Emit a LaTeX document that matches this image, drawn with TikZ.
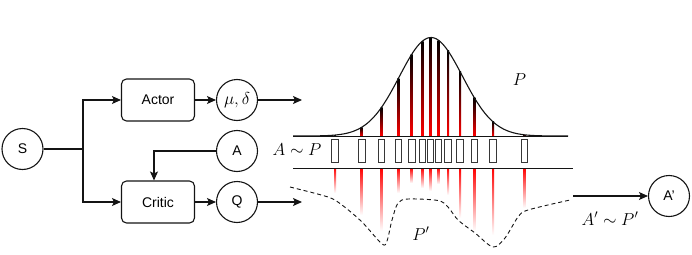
\documentclass[tikz,border=0pt]{standalone}
\usepackage{fontspec}
\setsansfont{Liberation Sans}
\usepackage{tikz}
\usetikzlibrary{calc,positioning,arrows.meta}
\definecolor{inkdark}{RGB}{20,20,20}
\definecolor{sampred}{RGB}{255,0,0}
\tikzset{
  flow/.style={line width=1.1pt, inkdark, -{Stealth[length=9pt,width=8pt,inset=2pt]}},
  roundbox/.style={draw=inkdark, line width=1.1pt, rounded corners=5pt,
    minimum width=73pt, minimum height=42pt, font=\sffamily},
  ring/.style={draw=inkdark, line width=1.1pt, circle, minimum size=41pt,
    inner sep=0pt, font=\sffamily},
  bandline/.style={line width=0.9pt, inkdark},
  sampbox/.style={draw=inkdark!85, line width=0.8pt, fill=white},
  mathlbl/.style={anchor=base, inner sep=0pt, font=\fontsize{18}{22}\selectfont},
}
\begin{document}
\begin{tikzpicture}[x=1pt, y=-1pt]
\fontsize{14}{17}\selectfont
% Frame fixed to the reference size (pixels as points, y pointing down)
\useasboundingbox (0,0) rectangle (692,254);
% Actor-critic block on the left
\node[ring] (S) at (22.5,149) {S};
\node[roundbox] (actor) at (158,100) {Actor};
\node[roundbox] (critic) at (158,202) {Critic};
\node[ring, font=\fontsize{19}{22}\selectfont] (mu) at (237,100) {$\mu,\delta$};
\node[ring] (A) at (237,151) {A};
\node[ring] (Q) at (237,202) {Q};
\coordinate (split) at (83,149);
\draw[line width=1.1pt, inkdark] (S) -- (split);
\draw[flow] (split) |- (actor);
\draw[flow] (split) |- (critic);
\draw[flow] (A) -| ([xshift=-4pt]critic.north);
\draw[flow] (actor) -- (mu);
\draw[flow] (critic) -- (Q);
\coordinate (muout) at (302,100);
\coordinate (qout) at (302,202);
\draw[flow] (mu) -- (muout);
\draw[flow] (Q) -- (qout);
% Sampling band: policy P above, samples in the band, fading below
\foreach \xx/\yend in {335/193, 361.7/215, 381.5/231, 398.3/193,
    411.7/183, 422.5/188, 430.5/191, 438.5/184, 448/195,
    460/218, 474.3/231, 493/235, 524.5/208} {
  \pgfmathsetmacro\ytop{136-98.5*exp(-0.5*((\xx-431)/31.5)^2)}
  \shade[top color=black, middle color=black!65!sampred, bottom color=sampred]
    (\xx-1,\ytop) rectangle (\xx+1,136);
  \shade[top color=sampred, bottom color=white]
    (\xx-1,168) rectangle (\xx+1,\yend);
  \draw[sampbox] (\xx-3.3,139.5) rectangle (\xx+3.3,162.5);
}
\draw[bandline] (293,136) -- (568,136);
\draw[bandline] (293,168) -- (573,168);
% Gaussian policy P
\draw[line width=1.1pt, inkdark] plot[domain=293:568, samples=120]
  (\x, {136-98.5*exp(-0.5*((\x-431)/31.5)^2)});
% Resulting distribution P'
\draw[line width=0.9pt, inkdark, dash pattern=on 4pt off 3pt]
  plot[smooth, tension=0.5] coordinates {(290,187) (328,197) (342,205)
  (362,222) (382,244) (387,241) (392,220) (398,203) (408,199)
  (438,200.5) (448,207) (458,220) (475,233) (493,247) (505,238)
  (518,217) (528,210) (570,200)};
\node[mathlbl] (lblsample) at (297,155.5) {$A\sim P$};
\node[mathlbl] (lblP) at (519.5,85.7) {$P$};
\node[mathlbl] (lblPp) at (421,240) {$P'$};
% Output action A'
\node[ring] (Ap) at (669,196) {A'};
\coordinate (aout) at (573,196);
\draw[flow] (aout) -- (Ap);
\node[mathlbl] (lblout) at (610,225) {$A'\sim P'$};
\end{tikzpicture}
\end{document}
